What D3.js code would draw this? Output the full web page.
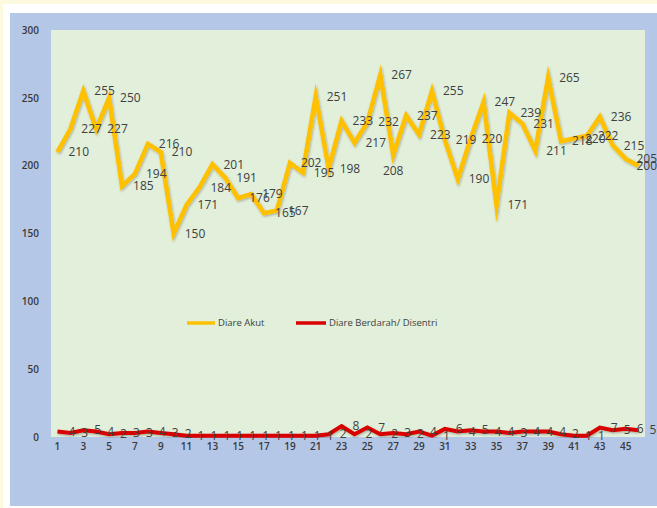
<!DOCTYPE html>
<html>
<head>
<meta charset="utf-8">
<script src="https://cdn.jsdelivr.net/npm/d3@7/dist/d3.min.js"></script>
<style>
  html, body { margin: 0; padding: 0; background: #fdf9de; }
  svg { display: block; }
</style>
</head>
<body>
<script>
// Weekly case counts, weeks 1..46
const weeks = d3.range(1, 47);
const diareAkut = [210, 227, 255, 227, 250, 185, 194, 216, 210, 150,
                   171, 184, 201, 191, 176, 179, 165, 167, 202, 195,
                   251, 198, 233, 217, 232, 267, 208, 237, 223, 255,
                   219, 190, 220, 247, 171, 239, 231, 211, 265, 218,
                   220, 222, 236, 215, 205, 200];
const diareBerdarah = [4, 3, 5, 4, 2, 3, 3, 4, 3, 2,
                       1, 1, 1, 1, 1, 1, 1, 1, 1, 1,
                       1, 2, 8, 2, 7, 2, 3, 2, 4, 1,
                       6, 4, 5, 4, 4, 3, 4, 4, 4, 2,
                       1, 1, 7, 5, 6, 5];
const yTicks = [0, 50, 100, 150, 200, 250, 300];
const xTickLabels = weeks.filter(w => w % 2 === 1);
const seriesNames = ["Diare Akut", "Diare Berdarah/ Disentri"];

const W = 657, H = 508;
const plot = { left: 51, right: 645, top: 30, bottom: 437 };
const colors = ["#ffc000", "#d90000"];
const labelFont = "'Open Sans', 'Liberation Sans', sans-serif";

const svg = d3.select("body").append("svg")
  .attr("width", W).attr("height", H);

const defs = svg.append("defs");
const shadow = defs.append("filter").attr("id", "lineShadow")
  .attr("x", "-5%").attr("y", "-20%").attr("width", "110%").attr("height", "140%");
shadow.append("feDropShadow")
  .attr("dx", 0.8).attr("dy", 1.2).attr("stdDeviation", 1)
  .attr("flood-color", "#000").attr("flood-opacity", 0.28);

// frame: white border, blue chart area, green plot area
svg.append("rect").attr("x", 3).attr("y", 4).attr("width", W - 3).attr("height", H - 4).attr("fill", "#ffffff");
svg.append("rect").attr("x", 10).attr("y", 13).attr("width", W - 10).attr("height", 493).attr("fill", "#b4c7e7");
svg.append("rect")
  .attr("x", plot.left).attr("y", plot.top)
  .attr("width", plot.right - plot.left).attr("height", plot.bottom - plot.top)
  .attr("fill", "#e2efda");

const x = d3.scaleBand().domain(weeks).range([plot.left, plot.right]);
const cx = w => x(w) + x.bandwidth() / 2;
const y = d3.scaleLinear().domain([0, 300]).range([plot.bottom, plot.top]);

// axes (labels only)
const yAxis = svg.append("g")
  .attr("transform", `translate(${plot.left},0)`)
  .call(d3.axisLeft(y).tickValues(yTicks).tickSize(0).tickPadding(12));
const xAxis = svg.append("g")
  .attr("transform", `translate(0,${plot.bottom})`)
  .call(d3.axisBottom(x).tickValues(xTickLabels).tickSize(0).tickPadding(6));
[yAxis, xAxis].forEach(g => {
  g.select(".domain").remove();
  g.selectAll("text")
    .attr("font-family", labelFont)
    .attr("font-size", "10px")
    .attr("font-weight", 600)
    .attr("fill", "#3a3a3a");
});

// series lines
const line = d3.line().x((d, i) => cx(weeks[i])).y(d => y(d));
[diareAkut, diareBerdarah].forEach((vals, k) => {
  svg.append("path")
    .datum(vals)
    .attr("d", line)
    .attr("fill", "none")
    .attr("stroke", colors[k])
    .attr("stroke-width", k === 0 ? 4.5 : 4)
    .attr("stroke-linejoin", "miter")
    .attr("stroke-miterlimit", 10)
    .attr("filter", "url(#lineShadow)");
});

// data labels, placed to the right of each point (week 27 of the first series sits below)
const belowLabels = new Set([27]);
function drawLabels(vals) {
  const g = svg.append("g")
    .attr("font-family", labelFont)
    .attr("font-size", "12px")
    .attr("fill", "#404040");
  vals.forEach((v, i) => {
    const w = weeks[i];
    const t = g.append("text").text(v);
    const below = vals === diareAkut && belowLabels.has(w);
    if (below) {
      t.attr("x", cx(w)).attr("y", y(v) + 16).attr("dy", "0.35em").attr("text-anchor", "middle");
    } else {
      t.attr("x", cx(w) + 11).attr("y", y(v)).attr("dy", "0.35em");
      const bw = t.node().getComputedTextLength();
      if (cx(w) + 11 + bw > W) t.attr("x", W - bw);
    }
  });
}
drawLabels(diareAkut);
drawLabels(diareBerdarah);

// legend
const legend = svg.append("g").attr("font-family", labelFont).attr("font-size", "9.5px").attr("fill", "#404040");
const legendItems = [{ x0: 187, x1: 215 }, { x0: 296, x1: 326 }];
seriesNames.forEach((name, k) => {
  const it = legendItems[k];
  legend.append("line")
    .attr("x1", it.x0).attr("x2", it.x1).attr("y1", 323).attr("y2", 323)
    .attr("stroke", colors[k]).attr("stroke-width", 3.5);
  legend.append("text").attr("x", it.x1 + 3).attr("y", 323).attr("dy", "0.35em").text(name);
});
</script>
</body>
</html>
